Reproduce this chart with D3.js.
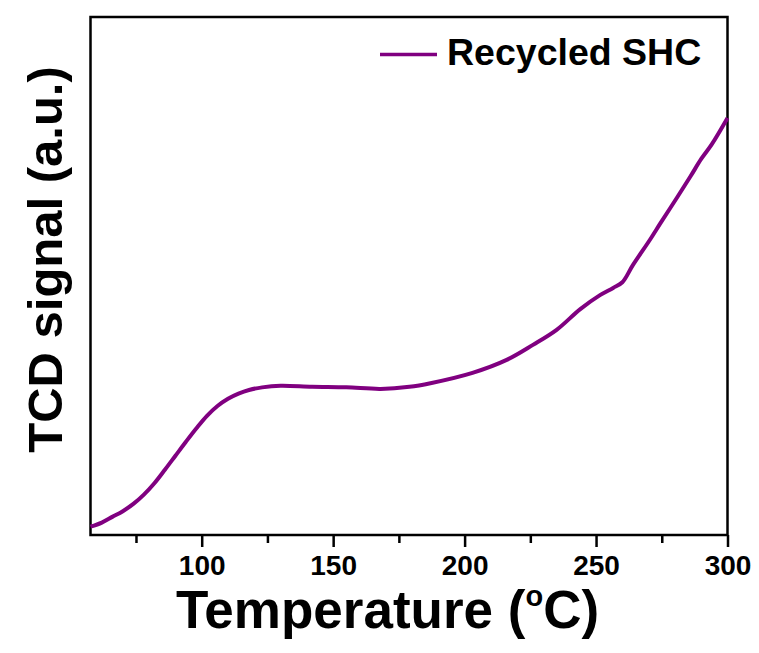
<!DOCTYPE html>
<html>
<head>
<meta charset="utf-8">
<script src="https://cdn.jsdelivr.net/npm/d3@7"></script>
<style>
  html, body { margin: 0; padding: 0; background: #fff; }
  svg text { font-family: "Liberation Sans", Arial, sans-serif; font-weight: bold; fill: #000; }
</style>
</head>
<body>
<svg id="chart" width="759" height="653"></svg>
<script>
// Temperature-programmed TCD trace (arbitrary signal units)
const temperature = [57.7, 62, 66, 70, 74, 78, 82, 86, 90, 94, 98, 102, 106, 110, 114, 118, 123, 130,
  142, 155, 168, 179, 187, 203, 216, 226, 235, 244, 251.5, 256.5, 260, 264, 270.5, 274.5, 281, 286,
  290, 294, 300];
const signal = [1.6, 2.4, 3.5, 4.6, 6.0, 7.8, 10.0, 12.6, 15.3, 18.0, 20.6, 23.0, 24.9, 26.3, 27.3, 28.0, 28.5, 28.8,
  28.6, 28.5, 28.2, 28.6, 29.3, 31.3, 33.8, 36.7, 39.6, 43.6, 46.3, 47.7, 48.8, 52.1, 57.0, 60.2, 65.3, 69.3,
  72.6, 75.4, 80.5];
const majorTicks = [100, 150, 200, 250, 300];
const minorTicks = [75, 125, 175, 225, 275];
const seriesName = "Recycled SHC";

const svg = d3.select("#chart");
const plotLeft = 90.5, plotRight = 727.5, plotTop = 17, plotBottom = 535;

const x = d3.scaleLinear().domain([57.7, 300]).range([plotLeft, plotRight]);
const y = d3.scaleLinear().domain([0, 100]).range([plotBottom, plotTop]);

// bottom axis: major ticks with labels, minor ticks without
const xAxis = svg.append("g").attr("transform", `translate(0,${plotBottom})`)
  .call(d3.axisBottom(x).tickValues(majorTicks).tickSize(12).tickPadding(8).tickFormat(d3.format("d")));
xAxis.select(".domain").remove();
xAxis.selectAll("line").attr("stroke", "#000").attr("stroke-width", 2.5);
xAxis.selectAll("text").style("font-size", "28px").attr("dy", "0.71em");

const xMinor = svg.append("g").attr("transform", `translate(0,${plotBottom})`)
  .call(d3.axisBottom(x).tickValues(minorTicks).tickSize(8).tickFormat(""));
xMinor.select(".domain").remove();
xMinor.selectAll("line").attr("stroke", "#000").attr("stroke-width", 2.5);

// plot frame
svg.append("rect")
  .attr("x", plotLeft).attr("y", plotTop)
  .attr("width", plotRight - plotLeft).attr("height", plotBottom - plotTop)
  .attr("fill", "none").attr("stroke", "#000").attr("stroke-width", 2.5);

// trace
const line = d3.line()
  .x((d, i) => x(temperature[i]))
  .y(d => y(d))
  .curve(d3.curveCatmullRom.alpha(0.5));
svg.append("path")
  .datum(signal)
  .attr("d", line)
  .attr("fill", "none")
  .attr("stroke", "#800080")
  .attr("stroke-width", 4)
  .attr("stroke-linejoin", "round");

// legend
svg.append("line")
  .attr("x1", 380).attr("x2", 437).attr("y1", 54.5).attr("y2", 54.5)
  .attr("stroke", "#800080").attr("stroke-width", 3.5);
svg.append("text")
  .attr("x", 447).attr("y", 65)
  .style("font-size", "37.5px")
  .text(seriesName);

// axis titles
const xt = svg.append("text")
  .attr("x", 387.5).attr("y", 628)
  .attr("text-anchor", "middle")
  .style("font-size", "53px");
xt.append("tspan").text("Temperature (");
xt.append("tspan").text("o").style("font-size", "29px").attr("dy", "-22");
xt.append("tspan").text("C)").attr("dy", "22");

svg.append("text")
  .attr("transform", "translate(62,259.5) rotate(-90)")
  .attr("text-anchor", "middle")
  .style("font-size", "49px")
  .text("TCD signal (a.u.)");
</script>
</body>
</html>
